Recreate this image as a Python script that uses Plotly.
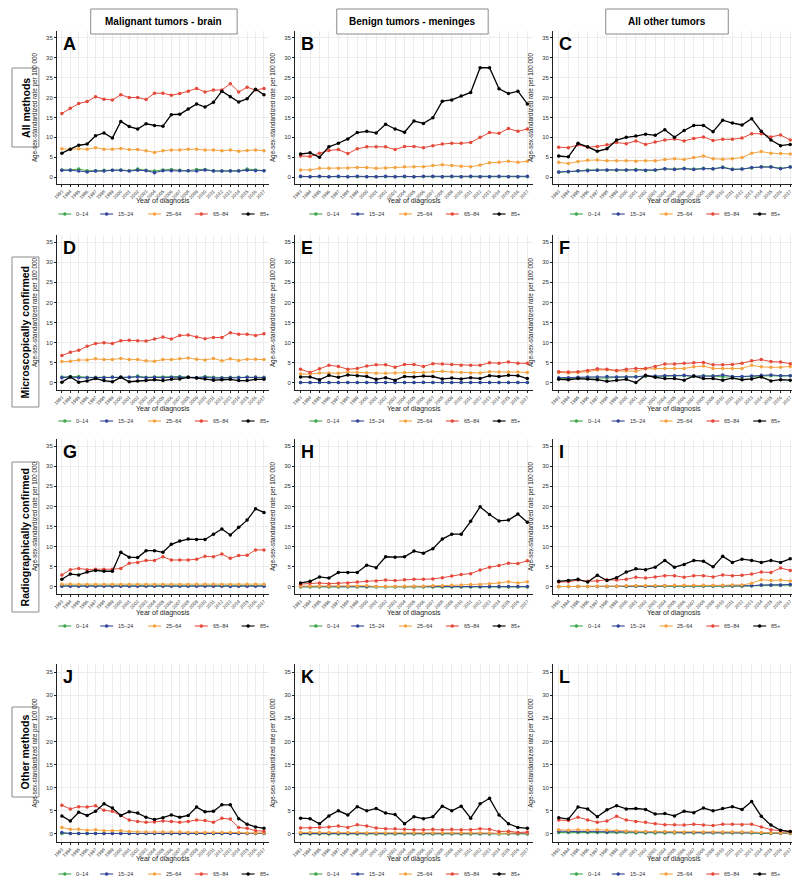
import plotly.graph_objects as go

years = list(range(1993, 2018))
year_labels = [str(y) for y in years]
age_groups = ["0–14", "15–24", "25–64", "65–84", "85+"]
colors = ["#3FA64A", "#33449A", "#F4A340", "#E5493A", "#000000"]
y_ticks = [0, 5, 10, 15, 20, 25, 30, 35]

col_titles = ["Malignant tumors - brain", "Benign tumors - meninges", "All other tumors"]
row_titles = ["All methods", "Microscopically confirmed", "Radiographically confirmed", "Other methods"]
panel_letters = ["A", "B", "C", "D", "E", "F", "G", "H", "I", "J", "K", "L"]
x_title = "Year of diagnosis"
y_title = "Age-sex-standardized rate per 100 000"

# Each panel: [0–14, 15–24, 25–64, 65–84, 85+]
panel_A = [
    [1.8, 1.8, 2.0, 1.6, 1.6, 1.7, 1.7, 1.8, 1.6, 2.0, 1.7, 1.5, 1.8, 1.9, 1.7, 1.6, 1.9, 1.9, 1.6, 1.5, 1.6, 1.6, 2.0, 1.8, 1.6],
    [1.7, 1.7, 1.5, 1.3, 1.5, 1.5, 1.7, 1.7, 1.5, 1.7, 1.6, 1.1, 1.6, 1.6, 1.6, 1.6, 1.5, 1.8, 1.5, 1.5, 1.5, 1.5, 1.7, 1.6, 1.6],
    [7.1, 7.0, 7.1, 7.0, 7.4, 7.0, 7.0, 7.2, 6.9, 6.9, 6.6, 6.2, 6.6, 6.8, 6.8, 7.0, 7.0, 6.8, 6.8, 6.6, 6.8, 6.5, 6.7, 6.8, 6.6],
    [16.0, 17.3, 18.5, 19.0, 20.2, 19.6, 19.4, 20.7, 20.0, 20.0, 19.5, 21.1, 21.1, 20.6, 21.0, 21.6, 22.3, 21.4, 21.9, 21.9, 23.5, 21.4, 22.6, 21.9, 22.3],
    [6.0, 7.0, 8.0, 8.3, 10.4, 11.1, 9.8, 14.0, 12.7, 12.1, 13.4, 13.0, 12.8, 15.7, 15.8, 17.1, 18.4, 17.6, 18.8, 21.6, 20.2, 18.9, 19.7, 22.1, 20.7],
]
panel_B = [
    [0.1, 0.1, 0.1, 0.1, 0.1, 0.1, 0.1, 0.1, 0.1, 0.1, 0.1, 0.1, 0.1, 0.1, 0.1, 0.1, 0.1, 0.1, 0.1, 0.1, 0.1, 0.1, 0.1, 0.1, 0.1],
    [0.2, 0.1, 0.2, 0.1, 0.2, 0.1, 0.2, 0.1, 0.1, 0.2, 0.1, 0.2, 0.1, 0.2, 0.2, 0.1, 0.2, 0.1, 0.2, 0.1, 0.1, 0.2, 0.1, 0.1, 0.2],
    [1.8, 1.8, 2.2, 2.2, 2.2, 2.3, 2.4, 2.4, 2.2, 2.3, 2.4, 2.6, 2.6, 2.6, 2.9, 3.1, 2.9, 2.7, 2.6, 3.0, 3.6, 3.7, 4.0, 3.7, 4.0],
    [5.3, 5.2, 6.0, 6.7, 6.9, 5.9, 7.1, 7.6, 7.6, 7.6, 6.9, 7.7, 7.7, 7.4, 7.9, 8.3, 8.5, 8.5, 8.7, 10.0, 11.2, 11.0, 12.2, 11.5, 12.1],
    [5.8, 6.1, 5.0, 7.6, 8.5, 9.6, 11.2, 11.5, 11.1, 13.3, 12.1, 11.3, 14.1, 13.5, 14.9, 19.1, 19.4, 20.4, 21.3, 27.5, 27.5, 22.2, 21.0, 21.6, 18.4],
]
panel_C = [
    [1.2, 1.3, 1.5, 1.8, 1.8, 1.7, 1.7, 1.7, 1.9, 1.6, 1.7, 2.0, 2.0, 2.2, 2.0, 2.2, 2.0, 2.5, 2.0, 2.0, 2.3, 2.6, 2.6, 2.2, 2.5],
    [1.3, 1.4, 1.6, 1.6, 1.7, 1.8, 1.8, 1.8, 1.7, 1.7, 1.8, 2.1, 1.9, 2.1, 1.9, 2.1, 2.1, 2.4, 1.9, 2.0, 2.4, 2.5, 2.5, 2.1, 2.5],
    [3.7, 3.4, 3.9, 4.2, 4.3, 4.1, 4.1, 4.1, 4.0, 4.1, 4.1, 4.4, 4.6, 4.4, 4.9, 5.3, 4.6, 4.5, 4.6, 4.9, 6.0, 6.4, 6.0, 5.9, 5.8],
    [7.5, 7.4, 8.1, 7.5, 7.7, 8.1, 8.7, 8.4, 9.1, 8.2, 8.8, 9.3, 9.6, 9.1, 9.7, 10.1, 9.2, 9.5, 9.5, 9.8, 10.9, 10.9, 10.1, 10.6, 9.3],
    [5.3, 5.1, 8.5, 7.6, 6.5, 7.1, 9.3, 10.0, 10.3, 10.8, 10.5, 11.9, 10.0, 11.7, 13.0, 13.0, 11.4, 14.3, 13.6, 13.1, 14.7, 11.5, 9.3, 7.9, 8.2],
]
panel_D = [
    [1.5, 1.6, 1.6, 1.4, 1.4, 1.4, 1.5, 1.5, 1.4, 1.7, 1.4, 1.5, 1.5, 1.5, 1.6, 1.4, 1.3, 1.6, 1.4, 1.3, 1.4, 1.4, 1.5, 1.5, 1.4],
    [1.3, 1.5, 1.3, 1.3, 1.3, 1.3, 1.4, 1.4, 1.4, 1.5, 1.3, 1.4, 1.3, 1.4, 1.4, 1.4, 1.3, 1.4, 1.2, 1.2, 1.3, 1.3, 1.4, 1.4, 1.3],
    [5.3, 5.4, 5.7, 5.7, 6.0, 5.8, 5.8, 6.1, 5.8, 5.8, 5.5, 5.4, 5.8, 5.8, 6.0, 6.2, 5.9, 5.7, 6.1, 5.5, 6.0, 5.6, 5.9, 5.9, 5.8],
    [6.8, 7.6, 8.1, 9.1, 9.8, 10.0, 9.8, 10.5, 10.6, 10.5, 10.4, 10.9, 11.4, 10.9, 11.8, 11.9, 11.4, 11.0, 11.3, 11.3, 12.5, 12.1, 12.1, 11.8, 12.2],
    [0.2, 1.5, 0.2, 0.5, 1.1, 0.6, 0.3, 1.4, 0.3, 0.5, 0.6, 0.8, 0.6, 0.9, 1.0, 1.4, 1.2, 1.0, 0.7, 0.8, 0.9, 0.6, 0.6, 0.9, 0.9],
]
panel_E = [
    [0.1, 0.1, 0.1, 0.1, 0.1, 0.1, 0.1, 0.1, 0.1, 0.1, 0.1, 0.1, 0.1, 0.1, 0.1, 0.1, 0.1, 0.1, 0.1, 0.1, 0.1, 0.1, 0.1, 0.1, 0.1],
    [0.1, 0.1, 0.2, 0.1, 0.1, 0.1, 0.1, 0.1, 0.1, 0.1, 0.1, 0.1, 0.1, 0.2, 0.1, 0.1, 0.1, 0.1, 0.1, 0.1, 0.1, 0.1, 0.1, 0.1, 0.1],
    [2.2, 2.2, 2.5, 2.5, 2.4, 2.7, 2.6, 2.5, 2.4, 2.4, 2.5, 2.6, 2.6, 2.6, 2.8, 2.9, 2.7, 2.6, 2.5, 2.5, 2.8, 2.7, 2.7, 2.7, 2.6],
    [3.4, 2.6, 3.5, 4.4, 4.1, 3.4, 3.6, 4.2, 4.5, 4.5, 3.9, 4.6, 4.6, 4.1, 4.8, 4.7, 4.6, 4.4, 4.4, 4.4, 5.0, 4.9, 5.2, 4.9, 4.9],
    [1.5, 1.5, 0.8, 1.9, 1.4, 2.0, 1.8, 1.6, 0.9, 1.3, 0.7, 1.6, 1.5, 1.7, 1.6, 1.0, 1.2, 1.0, 1.3, 1.1, 1.8, 1.6, 1.9, 1.8, 1.1],
]
panel_F = [
    [1.1, 1.1, 1.3, 1.3, 1.2, 1.2, 1.4, 1.5, 1.6, 1.6, 1.6, 1.7, 1.8, 1.8, 1.6, 1.8, 1.7, 1.5, 1.5, 1.5, 1.6, 1.7, 1.8, 1.7, 1.8],
    [1.3, 1.3, 1.4, 1.5, 1.5, 1.6, 1.5, 1.5, 1.5, 1.8, 1.7, 1.8, 1.8, 1.9, 1.7, 1.7, 1.7, 2.0, 1.6, 1.6, 1.7, 1.9, 2.0, 1.8, 1.8],
    [2.6, 2.5, 2.6, 2.8, 3.2, 3.3, 3.0, 3.0, 2.9, 3.5, 3.6, 3.6, 3.6, 3.6, 4.0, 4.2, 3.6, 3.6, 3.6, 3.6, 4.4, 4.0, 3.9, 3.9, 4.1],
    [2.8, 2.7, 2.8, 3.1, 3.5, 3.4, 3.1, 3.4, 3.6, 3.6, 4.1, 4.7, 4.7, 4.9, 5.0, 5.1, 4.5, 4.5, 4.6, 4.9, 5.5, 5.8, 5.3, 5.2, 4.8],
    [0.9, 0.8, 1.1, 1.0, 0.8, 0.4, 0.7, 0.9, 0.1, 1.9, 1.4, 1.1, 1.1, 0.7, 1.7, 1.1, 1.1, 0.7, 1.2, 0.8, 1.0, 1.5, 0.5, 0.8, 0.7],
]
panel_G = [
    [0.3, 0.3, 0.3, 0.3, 0.3, 0.3, 0.3, 0.3, 0.3, 0.4, 0.3, 0.3, 0.3, 0.3, 0.3, 0.3, 0.4, 0.3, 0.3, 0.3, 0.3, 0.3, 0.3, 0.4, 0.3],
    [0.2, 0.2, 0.2, 0.2, 0.2, 0.2, 0.2, 0.2, 0.2, 0.2, 0.2, 0.2, 0.2, 0.2, 0.2, 0.2, 0.2, 0.2, 0.2, 0.2, 0.1, 0.2, 0.2, 0.2, 0.2],
    [0.7, 0.7, 0.6, 0.6, 0.6, 0.6, 0.6, 0.6, 0.6, 0.6, 0.6, 0.6, 0.6, 0.6, 0.6, 0.6, 0.7, 0.7, 0.7, 0.6, 0.6, 0.6, 0.7, 0.7, 0.7],
    [3.0, 4.3, 4.6, 4.3, 4.4, 4.4, 4.4, 4.6, 5.9, 6.1, 6.6, 6.6, 7.5, 6.7, 6.7, 6.7, 6.9, 7.6, 7.5, 8.2, 7.1, 7.8, 7.9, 9.2, 9.2],
    [1.9, 3.2, 3.0, 3.7, 4.1, 3.9, 3.9, 8.6, 7.4, 7.3, 9.0, 9.0, 8.6, 10.6, 11.4, 11.9, 11.8, 11.8, 13.1, 14.4, 12.9, 14.8, 16.6, 19.4, 18.5],
]
panel_H = [
    [0.0, 0.0, 0.0, 0.0, 0.0, 0.0, 0.0, 0.0, 0.0, 0.0, 0.0, 0.0, 0.0, 0.0, 0.0, 0.0, 0.0, 0.0, 0.0, 0.0, 0.0, 0.0, 0.0, 0.0, 0.0],
    [0.1, 0.1, 0.1, 0.1, 0.1, 0.1, 0.1, 0.1, 0.1, 0.1, 0.1, 0.1, 0.1, 0.1, 0.1, 0.1, 0.1, 0.1, 0.1, 0.1, 0.1, 0.1, 0.1, 0.1, 0.1],
    [0.2, 0.2, 0.2, 0.2, 0.2, 0.2, 0.2, 0.3, 0.1, 0.1, 0.1, 0.2, 0.2, 0.2, 0.3, 0.3, 0.4, 0.5, 0.6, 0.6, 0.8, 1.0, 1.3, 1.0, 1.3],
    [0.7, 0.9, 1.0, 0.8, 0.9, 1.0, 1.2, 1.4, 1.5, 1.7, 1.6, 1.8, 1.9, 1.9, 2.0, 2.3, 2.7, 3.1, 3.3, 4.2, 4.9, 5.3, 5.9, 5.8, 6.5],
    [1.0, 1.4, 2.5, 2.2, 3.6, 3.6, 3.6, 5.4, 4.8, 7.5, 7.4, 7.5, 8.9, 8.4, 9.5, 11.9, 13.1, 13.1, 16.3, 19.9, 18.0, 16.4, 16.6, 18.1, 16.1],
]
panel_I = [
    [0.1, 0.1, 0.1, 0.1, 0.1, 0.1, 0.1, 0.1, 0.2, 0.2, 0.2, 0.2, 0.2, 0.2, 0.2, 0.2, 0.2, 0.2, 0.2, 0.2, 0.3, 0.4, 0.4, 0.4, 0.5],
    [0.1, 0.1, 0.1, 0.1, 0.1, 0.1, 0.2, 0.2, 0.2, 0.2, 0.2, 0.3, 0.3, 0.3, 0.3, 0.3, 0.3, 0.3, 0.3, 0.3, 0.3, 0.5, 0.5, 0.5, 0.6],
    [0.1, 0.1, 0.1, 0.1, 0.2, 0.2, 0.2, 0.3, 0.3, 0.3, 0.3, 0.3, 0.4, 0.4, 0.4, 0.4, 0.4, 0.4, 0.5, 0.5, 0.9, 1.8, 1.6, 1.7, 1.5],
    [1.2, 1.3, 1.7, 1.4, 1.5, 1.8, 1.7, 1.9, 2.4, 2.2, 2.5, 2.8, 2.8, 2.4, 2.8, 2.8, 2.5, 3.0, 2.8, 2.9, 3.2, 3.7, 3.6, 4.7, 4.1],
    [1.4, 1.6, 1.9, 1.2, 2.9, 1.6, 2.3, 3.7, 4.5, 4.3, 4.9, 6.6, 4.9, 5.6, 6.6, 6.4, 5.0, 7.6, 6.1, 6.9, 6.6, 6.1, 6.6, 6.1, 7.0],
]
panel_J = [
    [0.1, 0.1, 0.1, 0.1, 0.1, 0.1, 0.1, 0.1, 0.1, 0.1, 0.1, 0.1, 0.1, 0.1, 0.1, 0.1, 0.1, 0.1, 0.1, 0.1, 0.1, 0.1, 0.1, 0.1, 0.1],
    [0.3, 0.1, 0.1, 0.1, 0.1, 0.1, 0.1, 0.1, 0.1, 0.1, 0.1, 0.1, 0.1, 0.1, 0.1, 0.1, 0.1, 0.1, 0.1, 0.1, 0.1, 0.1, 0.1, 0.1, 0.1],
    [1.4, 1.0, 1.0, 0.8, 0.9, 0.7, 0.7, 0.7, 0.5, 0.4, 0.4, 0.4, 0.4, 0.4, 0.4, 0.3, 0.3, 0.3, 0.3, 0.3, 0.3, 0.3, 0.2, 0.2, 0.2],
    [6.2, 5.4, 5.9, 5.8, 6.1, 5.1, 4.9, 4.0, 3.0, 2.7, 2.5, 2.6, 2.8, 2.7, 2.5, 2.7, 3.0, 2.9, 2.5, 3.4, 3.2, 1.4, 1.2, 0.7, 0.6],
    [3.9, 2.8, 4.7, 4.0, 4.9, 6.5, 5.6, 4.0, 4.8, 4.5, 3.6, 3.1, 3.5, 4.1, 3.6, 4.0, 5.8, 4.8, 4.9, 6.3, 6.3, 3.3, 2.1, 1.5, 1.2],
]
panel_K = [
    [0.0, 0.0, 0.0, 0.0, 0.0, 0.0, 0.0, 0.0, 0.0, 0.0, 0.0, 0.0, 0.0, 0.0, 0.0, 0.0, 0.0, 0.0, 0.0, 0.0, 0.0, 0.0, 0.0, 0.0, 0.0],
    [0.1, 0.1, 0.1, 0.1, 0.1, 0.1, 0.1, 0.1, 0.1, 0.1, 0.1, 0.1, 0.1, 0.1, 0.1, 0.1, 0.1, 0.1, 0.1, 0.1, 0.1, 0.1, 0.1, 0.1, 0.1],
    [0.3, 0.3, 0.3, 0.3, 0.3, 0.3, 0.3, 0.2, 0.2, 0.2, 0.2, 0.2, 0.2, 0.2, 0.2, 0.2, 0.2, 0.2, 0.2, 0.2, 0.2, 0.1, 0.2, 0.2, 0.2],
    [1.3, 1.3, 1.4, 1.5, 1.7, 1.4, 2.0, 1.7, 1.3, 1.1, 1.1, 1.0, 0.9, 0.9, 1.0, 0.9, 1.0, 0.9, 0.9, 1.1, 1.0, 0.5, 0.6, 0.3, 0.4],
    [3.4, 3.3, 2.2, 3.9, 5.0, 4.1, 5.9, 5.0, 5.5, 4.5, 4.2, 2.2, 3.7, 3.3, 3.7, 6.0, 5.0, 6.0, 3.4, 6.5, 7.7, 4.1, 2.2, 1.4, 1.2],
]
panel_L = [
    [0.3, 0.3, 0.3, 0.3, 0.3, 0.3, 0.3, 0.3, 0.2, 0.2, 0.2, 0.2, 0.2, 0.2, 0.2, 0.2, 0.2, 0.2, 0.2, 0.2, 0.2, 0.1, 0.1, 0.1, 0.1],
    [0.6, 0.5, 0.5, 0.5, 0.5, 0.4, 0.5, 0.5, 0.4, 0.4, 0.4, 0.4, 0.4, 0.3, 0.3, 0.3, 0.3, 0.3, 0.3, 0.3, 0.3, 0.2, 0.2, 0.2, 0.2],
    [0.9, 0.8, 0.9, 0.8, 0.9, 0.8, 0.7, 0.6, 0.5, 0.5, 0.5, 0.5, 0.4, 0.4, 0.4, 0.4, 0.4, 0.4, 0.4, 0.4, 0.4, 0.3, 0.2, 0.2, 0.2],
    [3.0, 2.9, 3.6, 3.0, 2.5, 2.8, 3.8, 3.0, 2.7, 2.5, 2.2, 2.0, 2.0, 1.9, 2.1, 1.9, 1.8, 2.1, 2.1, 2.0, 2.1, 1.5, 0.9, 0.7, 0.5],
    [3.5, 3.2, 5.8, 5.4, 3.7, 5.2, 6.1, 5.4, 5.5, 5.3, 4.3, 4.4, 3.9, 4.9, 4.6, 5.6, 5.0, 5.5, 5.9, 5.3, 7.0, 3.8, 1.9, 0.8, 0.5],
]
panels = [panel_A, panel_B, panel_C, panel_D, panel_E, panel_F,
          panel_G, panel_H, panel_I, panel_J, panel_K, panel_L]

# ---- layout geometry (page pixels; the page body adds an 8px margin) ----
PAGE_W, PAGE_H = 800, 884
OFF = 8
W, H = PAGE_W - OFF, PAGE_H - OFF
FONT = "Liberation Sans, Arial, sans-serif"
col_px = [(54, 267), (293, 532), (552, 796)]
row_px = [(31, 184), (235, 390), (439, 594), (664, 842)]
xtitle_y_px = [201, 409, 613, 859]
legend_y_px = [214, 421, 626, 874]
legend_offsets = [0, 42, 90, 137, 184]   # entry starts within a legend row (px)
legend_total = 210
key_len = 13

def px_x(p):
    return (p - OFF) / W

def px_y(p):
    return 1 - (p - OFF) / H

fig = go.Figure()
layout = dict(
    width=W, height=H, margin=dict(l=0, r=0, t=0, b=0),
    paper_bgcolor="white", plot_bgcolor="white",
    font=dict(family=FONT, color="#222"),
    showlegend=False,
)
annotations = []
shapes = []

for i, data in enumerate(panels):
    r, c = divmod(i, 3)
    n = i + 1
    sfx = "" if n == 1 else str(n)
    x0, x1 = col_px[c]
    y0, y1 = row_px[r]
    for j, vals in enumerate(data):
        fig.add_trace(go.Scatter(
            x=years, y=vals, mode="lines+markers", name=age_groups[j],
            line=dict(color=colors[j], width=1.3 if j == 4 else 1.0),
            marker=dict(color=colors[j], size=3.5),
            xaxis=f"x{sfx}", yaxis=f"y{sfx}", showlegend=False,
        ))
    layout[f"xaxis{sfx}"] = dict(
        domain=[px_x(x0), px_x(x1)], anchor=f"y{sfx}",
        range=[1992.4, 2017.6], tickmode="array", tickvals=years, ticktext=year_labels,
        tickangle=-45, tickfont=dict(size=4.7, color="#333"),
        showgrid=True, gridcolor="#ececec", gridwidth=0.6,
        showline=True, linecolor="#222", linewidth=0.7,
        ticks="outside", ticklen=2, tickwidth=0.6, tickcolor="#222",
        zeroline=False, fixedrange=True,
    )
    layout[f"yaxis{sfx}"] = dict(
        domain=[px_y(y1), px_y(y0)], anchor=f"x{sfx}",
        range=[-1.75, 36.75], tickmode="array", tickvals=y_ticks,
        tickfont=dict(size=6, color="#333"),
        showgrid=True, gridcolor="#ececec", gridwidth=0.6,
        showline=True, linecolor="#222", linewidth=0.7,
        ticks="outside", ticklen=2, tickwidth=0.6, tickcolor="#222",
        zeroline=False, fixedrange=True,
        title=dict(text=y_title, font=dict(size=6.3, color="#222"), standoff=7),
    )
    # x-axis title
    annotations.append(dict(
        text=x_title, x=px_x((x0 + x1) / 2), y=px_y(xtitle_y_px[r]),
        xref="paper", yref="paper", xanchor="center", yanchor="middle",
        showarrow=False, font=dict(size=7, color="#222", family=FONT),
    ))
    # panel letter
    annotations.append(dict(
        text=f"<b>{panel_letters[i]}</b>", x=px_x(x0 + 4), y=px_y(y0 + 1),
        xref="paper", yref="paper", xanchor="left", yanchor="top",
        showarrow=False, font=dict(size=18, color="black", family=FONT),
    ))
    # legend row (key line + dot + label) centred below the panel
    lx = (x0 + x1) / 2 - legend_total / 2
    ly = legend_y_px[r]
    for j, name in enumerate(age_groups):
        sx = lx + legend_offsets[j]
        shapes.append(dict(type="line", xref="paper", yref="paper",
                           x0=px_x(sx), x1=px_x(sx + key_len), y0=px_y(ly), y1=px_y(ly),
                           line=dict(color=colors[j], width=1.1)))
        cx = sx + key_len / 2
        shapes.append(dict(type="circle", xref="paper", yref="paper",
                           x0=px_x(cx - 1.5), x1=px_x(cx + 1.5), y0=px_y(ly + 1.5), y1=px_y(ly - 1.5),
                           line=dict(color=colors[j], width=0.5), fillcolor=colors[j]))
        annotations.append(dict(
            text=name, x=px_x(sx + key_len + 3), y=px_y(ly),
            xref="paper", yref="paper", xanchor="left", yanchor="middle",
            showarrow=False, font=dict(size=5.5, color="#333", family=FONT),
        ))

# column header boxes
col_boxes = [(88, 235), (335, 487), (605, 728)]
for (bx0, bx1), title in zip(col_boxes, col_titles):
    shapes.append(dict(type="rect", xref="paper", yref="paper",
                       x0=px_x(bx0), x1=px_x(bx1), y0=px_y(34), y1=px_y(9),
                       line=dict(color="#8a8a8a", width=1), fillcolor="white"))
    annotations.append(dict(text=f"<b>{title}</b>", x=px_x((bx0 + bx1) / 2), y=px_y(21.5),
                            xref="paper", yref="paper", xanchor="center", yanchor="middle",
                            showarrow=False, font=dict(size=10, color="black", family=FONT)))

# row label boxes
row_boxes = [(68, 147), (257, 407), (462, 612), (707, 797)]
for (by0, by1), title in zip(row_boxes, row_titles):
    shapes.append(dict(type="rect", xref="paper", yref="paper",
                       x0=px_x(9), x1=px_x(36), y0=px_y(by1), y1=px_y(by0),
                       line=dict(color="#8a8a8a", width=1), fillcolor="white"))
    annotations.append(dict(text=f"<b>{title}</b>", x=px_x(22.5), y=px_y((by0 + by1) / 2),
                            xref="paper", yref="paper", xanchor="center", yanchor="middle",
                            textangle=-90, showarrow=False,
                            font=dict(size=10.5, color="black", family=FONT)))

layout["annotations"] = annotations
layout["shapes"] = shapes
fig.update_layout(**layout)
fig.write_html("out.html")
